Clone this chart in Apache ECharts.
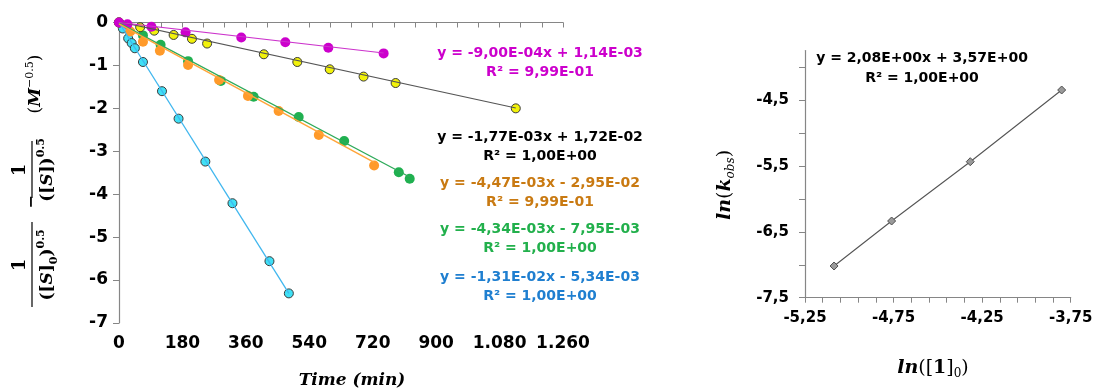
<!DOCTYPE html>
<html>
<head>
<meta charset="utf-8">
<script src="https://cdn.jsdelivr.net/npm/echarts@6/dist/echarts.min.js"></script>
<style>
  html, body { margin: 0; padding: 0; background: #fff; }
  #chart { width: 1097px; height: 391px; }
</style>
</head>
<body>
<div id="chart"></div>
<script>
// left chart: time (min) vs 1/[S]0^0.5 - 1/[S]^0.5
const magTime = [0, 24, 92, 189, 347, 472, 594, 751];
const magVal = [0, -0.04, -0.1, -0.23, -0.35, -0.46, -0.59, -0.72];
const yelTime = [0, 60, 100, 155, 207, 250, 411, 506, 598, 694, 785, 1126];
const yelVal = [0, -0.11, -0.19, -0.29, -0.38, -0.49, -0.74, -0.92, -1.09, -1.26, -1.41, -2.0];
const oraTime = [0, 32, 68, 116, 196, 284, 366, 453, 567, 724];
const oraVal = [0, -0.21, -0.45, -0.66, -0.99, -1.34, -1.71, -2.06, -2.62, -3.33];
const grnTime = [0, 68, 118, 196, 289, 382, 510, 639, 794, 825];
const grnVal = [0, -0.3, -0.52, -0.9, -1.36, -1.73, -2.2, -2.76, -3.49, -3.64];
const cyaTime = [0, 11, 26, 36, 45, 68, 122, 169, 245, 322, 427, 482];
const cyaVal = [0, -0.14, -0.37, -0.48, -0.6, -0.92, -1.6, -2.24, -3.24, -4.21, -5.56, -6.31];

// trendline ends
const magFit = [[0, 0], [751, -0.71]];
const yelFit = [[0, 0.02], [1126, -1.99]];
const oraFit = [[0, -0.03], [724, -3.26]];
const grnFit = [[0, -0.01], [825, -3.6]];
const cyaFit = [[0, 0], [482, -6.31]];

const timeTicks = [0, 60, 120, 180, 240, 300, 360, 420, 480, 540, 600, 660, 720, 780, 840, 900, 960, 1020, 1080, 1140, 1200, 1260];
const timeLabels = [0, 180, 360, 540, 720, 900, 1080, 1260];

const eqTexts = [
  ['y = -9,00E-04x + 1,14E-03', 'R² = 9,99E-01', '#cc00cc', 53],
  ['y = -1,77E-03x + 1,72E-02', 'R² = 1,00E+00', '#000000', 137],
  ['y = -4,47E-03x - 2,95E-02', 'R² = 9,99E-01', '#c97a12', 183],
  ['y = -4,34E-03x - 7,95E-03', 'R² = 1,00E+00', '#22b04c', 229],
  ['y = -1,31E-02x - 5,34E-03', 'R² = 1,00E+00', '#1f7fd0', 277]
];

// right chart: ln([1]0) vs ln(kobs)
const lnConc = [-5.086, -4.761, -4.317, -3.801];
const lnKobs = [-7.019, -6.336, -5.436, -4.348];
const lnConcTicks = [-5.25, -5.15, -5.05, -4.95, -4.85, -4.75, -4.65, -4.55, -4.45, -4.35, -4.25, -4.15, -4.05, -3.95, -3.85, -3.75];
const lnConcLabels = [-5.25, -4.75, -4.25, -3.75];
const lnKTicks = [-7.5, -7, -6.5, -6, -5.5, -5, -4.5, -4];
const lnKLabels = [-7.5, -6.5, -5.5, -4.5];

function pairs(xs, ys) {
  return xs.map((x, i) => [x, ys[i]]);
}

const axisGray = '#868686';
const tickFont = 'DejaVu Sans';

function fitLine(data, color, width) {
  return {
    type: 'line', xAxisIndex: 0, yAxisIndex: 0, data: data,
    symbol: 'none', silent: true,
    lineStyle: { color: color, width: width }
  };
}
function dots(data, color, border) {
  return {
    type: 'scatter', xAxisIndex: 0, yAxisIndex: 0, data: data,
    symbolSize: border ? 9 : 10,
    itemStyle: {
      color: color,
      borderColor: border ? '#3a3a3a' : color,
      borderWidth: border ? 1 : 0,
      opacity: 1
    }
  };
}

const serifB = 'bold 18px "DejaVu Serif"';
const graphics = [];

// left y axis name, built from pieces and turned 90 degrees
const rot = Math.PI / 2;
function rText(x, y, text, rich, font) {
  graphics.push({
    type: 'text', x: x, y: y, rotation: rot,
    style: { text: text, rich: rich, font: font || serifB, fill: '#000', align: 'center', verticalAlign: 'middle' }
  });
}
const denRich = {
  p: { font: 'bold 17px "DejaVu Serif"', lineHeight: 24, fill: '#000' },
  s: { font: 'bold italic 17px "DejaVu Serif"', lineHeight: 24, fill: '#000' },
  sub: { font: 'bold 11px "DejaVu Serif"', lineHeight: 24, verticalAlign: 'bottom', fill: '#000' },
  sup: { font: 'bold 11px "DejaVu Serif"', lineHeight: 24, verticalAlign: 'top', fill: '#000' }
};
rText(20, 265, '1');
rText(48, 265, '{p|([}{s|S}{p|]}{sub|0}{p|)}{sup|0.5}', denRich);
graphics.push({ type: 'line', shape: { x1: 32, y1: 222, x2: 32, y2: 307 }, style: { stroke: '#000', lineWidth: 1.2 } });
rText(32, 202, '−', null, 'bold 16px "DejaVu Serif"');
rText(20, 170, '1');
rText(48, 170, '{p|([}{s|S}{p|])}{sup|0.5}', denRich);
graphics.push({ type: 'line', shape: { x1: 32, y1: 141, x2: 32, y2: 198 }, style: { stroke: '#000', lineWidth: 1.2 } });
rText(36, 84, '{p|(}{s|M}{sup|−0.5}{p|)}', {
  p: { font: '17px "DejaVu Serif"', lineHeight: 22, fill: '#000' },
  s: { font: 'bold italic 17px "DejaVu Serif"', lineHeight: 22, fill: '#000' },
  sup: { font: '11px "DejaVu Serif"', lineHeight: 22, verticalAlign: 'top', fill: '#000' }
});

// x axis names
graphics.push({
  type: 'text', x: 352, y: 381,
  style: { text: 'Time (min)', font: 'bold italic 17px "DejaVu Serif"', fill: '#000', align: 'center', verticalAlign: 'middle' }
});
const lnRich = {
  i: { font: 'bold italic 19px "DejaVu Serif"', lineHeight: 24, fill: '#000' },
  p: { font: '19px "DejaVu Serif"', lineHeight: 24, fill: '#000' },
  b: { font: 'bold 19px "DejaVu Serif"', lineHeight: 24, fill: '#000' },
  sub: { font: 'italic 12px "DejaVu Serif"', lineHeight: 24, verticalAlign: 'bottom', fill: '#000' },
  sub2: { font: '12px "DejaVu Serif"', lineHeight: 24, verticalAlign: 'bottom', fill: '#000' }
};
graphics.push({
  type: 'text', x: 933, y: 368,
  style: { text: '{i|ln}{p|([}{b|1}{p|]}{sub2|0}{p|)}', rich: lnRich, align: 'center', verticalAlign: 'middle' }
});
graphics.push({
  type: 'text', x: 725, y: 185, rotation: rot,
  style: { text: '{i|ln}{p|(}{i|k}{sub|obs}{p|)}', rich: lnRich, align: 'center', verticalAlign: 'middle' }
});

// trendline equations
const eqFont = 'bold 14px "DejaVu Sans"';
eqTexts.forEach(function (e) {
  graphics.push({ type: 'text', x: 540, y: e[3], style: { text: e[0], font: eqFont, fill: e[2], align: 'center', verticalAlign: 'middle' } });
  graphics.push({ type: 'text', x: 540, y: e[3] + 19, style: { text: e[1], font: eqFont, fill: e[2], align: 'center', verticalAlign: 'middle' } });
});
graphics.push({ type: 'text', x: 922, y: 58, style: { text: 'y = 2,08E+00x + 3,57E+00', font: eqFont, fill: '#000', align: 'center', verticalAlign: 'middle' } });
graphics.push({ type: 'text', x: 922, y: 78, style: { text: 'R² = 1,00E+00', font: eqFont, fill: '#000', align: 'center', verticalAlign: 'middle' } });

const chart = echarts.init(document.getElementById('chart'));
chart.setOption({
  backgroundColor: '#fff',
  animation: false,
  grid: [
    { left: 119, top: 22.5, width: 444, height: 300.5 },
    { left: 805, top: 50.6, width: 265.7, height: 247.1 }
  ],
  xAxis: [
    {
      type: 'value', gridIndex: 0, min: 0, max: 1260,
      splitLine: { show: false },
      axisLine: { lineStyle: { color: axisGray, width: 1.2 } },
      axisTick: { show: true, customValues: timeTicks, length: 5, lineStyle: { color: axisGray, width: 1 } },
      axisLabel: {
        customValues: timeLabels, margin: 12, color: '#000', fontWeight: 'bold', fontSize: 17, fontFamily: tickFont,
        formatter: v => String(v).replace(/\B(?=(\d{3})+(?!\d))/g, '.')
      }
    },
    {
      type: 'value', gridIndex: 1, min: -5.25, max: -3.75,
      splitLine: { show: false },
      axisLine: { onZero: false, lineStyle: { color: axisGray, width: 1.2 } },
      axisTick: { show: true, customValues: lnConcTicks, length: 5, lineStyle: { color: axisGray, width: 1 } },
      axisLabel: {
        customValues: lnConcLabels, margin: 13, color: '#000', fontWeight: 'bold', fontSize: 15, fontFamily: tickFont,
        formatter: v => v.toFixed(2).replace('.', ',')
      }
    }
  ],
  yAxis: [
    {
      type: 'value', gridIndex: 0, min: -7, max: 0, interval: 1,
      splitLine: { show: false },
      axisLine: { show: true, lineStyle: { color: axisGray, width: 1.2 } },
      axisTick: { show: true, length: 6, lineStyle: { color: axisGray } },
      axisLabel: { margin: 11, color: '#000', fontWeight: 'bold', fontSize: 17, fontFamily: tickFont }
    },
    {
      type: 'value', gridIndex: 1, min: -7.5, max: -3.75,
      splitLine: { show: false },
      axisLine: { show: true, onZero: false, lineStyle: { color: axisGray, width: 1.2 } },
      axisTick: { show: true, customValues: lnKTicks, length: 6, lineStyle: { color: axisGray } },
      axisLabel: {
        customValues: lnKLabels, margin: 16, color: '#000', fontWeight: 'bold', fontSize: 15, fontFamily: tickFont,
        formatter: v => String(v).replace('.', ',')
      }
    }
  ],
  series: [
    fitLine(cyaFit, '#3fb6ee', 1.3),
    fitLine(grnFit, '#2eaa5a', 1.3),
    fitLine(oraFit, '#ffa53a', 1.5),
    fitLine(yelFit, '#555555', 1.1),
    fitLine(magFit, '#cc33cc', 1.2),
    dots(pairs(cyaTime, cyaVal), '#3fe0f5', true),
    dots(pairs(grnTime, grnVal), '#20b050', false),
    dots(pairs(oraTime, oraVal), '#ff9a2a', false),
    dots(pairs(yelTime, yelVal), '#f2f20a', true),
    dots(pairs(magTime, magVal), '#cc00cc', false),
    {
      type: 'line', xAxisIndex: 1, yAxisIndex: 1, data: pairs(lnConc, lnKobs),
      symbol: 'diamond', symbolSize: 8,
      lineStyle: { color: '#555555', width: 1.1 },
      itemStyle: { color: '#9a9a9a', borderColor: '#505050', borderWidth: 1 }
    }
  ],
  graphic: graphics
});
</script>
</body>
</html>
